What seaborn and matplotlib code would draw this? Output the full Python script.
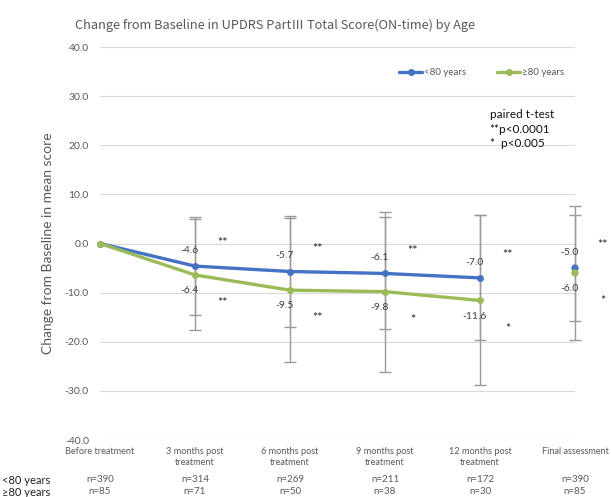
import numpy as np
import pandas as pd
import matplotlib
matplotlib.use("Agg")
import matplotlib.pyplot as plt
from matplotlib.lines import Line2D
from matplotlib.transforms import blended_transform_factory
import seaborn as sns

# ---- data ---------------------------------------------------------------
categories = ["Before treatment", "3 months post\ntreatment", "6 months post\ntreatment",
              "9 months post\ntreatment", "12 months post\ntreatment", "Final assessment"]
under80_mean = [0.0, -4.6, -5.7, -6.1, -7.0, -5.0]
over80_mean = [0.0, -6.4, -9.5, -9.8, -11.6, -6.0]
under80_sd = [np.nan, 10.0, 11.2, 11.4, 12.7, 10.7]
over80_sd = [np.nan, 11.3, 14.7, 16.3, 17.3, 13.7]
under80_n = [390, 314, 269, 211, 172, 390]
over80_n = [85, 71, 50, 38, 30, 85]
under80_sig = ["", "**", "**", "**", "**", "**"]
over80_sig = ["", "**", "**", "*", "*", "*"]
group_names = ["<80 years", "\u226580 years"]
y_ticks = [-40, -30, -20, -10, 0, 10, 20, 30, 40]

BLUE = "#4472C4"
GREEN = "#9BBB59"
GREY_TXT = "#595959"

sns.set_theme(style="white")
plt.rcParams["font.family"] = ["Lato", "DejaVu Sans"]

fig = plt.figure(figsize=(6.11, 4.97), dpi=100)
ax = fig.add_axes([100 / 611, 1 - 440 / 497, 475 / 611, 393 / 497])

pos = np.arange(len(categories))
df = pd.DataFrame({
    "pos": np.concatenate([pos, pos]),
    "mean": under80_mean + over80_mean,
    "sd": under80_sd + over80_sd,
    "group": [group_names[0]] * len(pos) + [group_names[1]] * len(pos),
})
palette = {group_names[0]: BLUE, group_names[1]: GREEN}

# error bars behind the lines
for g in group_names:
    sub = df[(df.group == g) & df.sd.notna()]
    ax.errorbar(sub["pos"], sub["mean"], yerr=sub["sd"], fmt="none",
                ecolor="#9a9a9a", elinewidth=1.0, capsize=4, capthick=1.0,
                zorder=2, clip_on=False)

# follow-up course (connected) and final assessment (stand-alone point)
course = df[df.pos < 5]
final = df[df.pos == 5]
sns.lineplot(data=course, x="pos", y="mean", hue="group", palette=palette,
             marker="o", markersize=5, markeredgewidth=0, linewidth=2.4,
             legend=False, ax=ax, zorder=3, clip_on=False)
sns.scatterplot(data=final, x="pos", y="mean", hue="group", palette=palette,
                s=28, linewidth=0, legend=False, ax=ax, zorder=3, clip_on=False)

# value labels and significance marks: <80 above its points, >=80 below its points
for means, sig, lab_off, sig_off, va in [
        (under80_mean, under80_sig, (-4, 8), (20, 12), "bottom"),
        (over80_mean, over80_sig, (-4, -8), (20, -16), "top")]:
    for i in range(1, len(pos)):
        ax.annotate(f"{means[i]:.1f}", (pos[i], means[i]), xytext=lab_off,
                    textcoords="offset points", ha="center", va=va,
                    fontsize=7.5, color="#404040")
        ax.annotate(sig[i], (pos[i], means[i]), xytext=sig_off,
                    textcoords="offset points", ha="center", va=va,
                    fontsize=9, color="#222222")

# axes styling
ax.set_xlim(0, 5)
ax.set_ylim(-40, 40)
ax.set_yticks(y_ticks)
ax.set_yticklabels([f"{v:.1f}" for v in y_ticks], fontsize=7.5, color=GREY_TXT)
ax.set_xticks(pos)
ax.set_xticklabels(categories, fontsize=6.6, color=GREY_TXT, linespacing=1.3)
ax.tick_params(axis="both", length=0)
ax.tick_params(axis="y", pad=8)
ax.tick_params(axis="x", pad=5)
ax.grid(axis="y", color="#d9d9d9", linewidth=0.8)
ax.grid(axis="x", visible=False)
for s in ax.spines.values():
    s.set_visible(False)
ax.set_xlabel("")
ax.set_ylabel("Change from Baseline in mean score", fontsize=10, color=GREY_TXT,
              labelpad=8)

fig.text(0.45, 1 - 25 / 497,
         "Change from Baseline in UPDRS Part\u2162 Total Score(ON-time) by Age",
         ha="center", va="center", fontsize=9.2, color=GREY_TXT,
         family=["Noto Sans CJK JP", "DejaVu Sans"])

# legend
handles = [Line2D([0], [0], color=palette[g], lw=2.4, marker="o", markersize=4)
           for g in group_names]
ax.legend(handles, group_names, loc="center right", bbox_to_anchor=(0.995, 0.934),
          ncol=2, frameon=False, fontsize=7, handlelength=2.4, columnspacing=3.2,
          handletextpad=0.15, labelcolor=GREY_TXT)

ax.text(0.82, 0.842, "paired t-test\n**p<0.0001\n*  p<0.005", transform=ax.transAxes,
        ha="left", va="top", fontsize=8.5, color="#111111", linespacing=1.4)

# sample sizes below the axis
trans = blended_transform_factory(ax.transData, fig.transFigure)
for row_y, name, ns in [(1 - 480 / 497, group_names[0], under80_n),
                        (1 - 492 / 497, group_names[1], over80_n)]:
    fig.text(2 / 611, row_y, name, ha="left", va="center", fontsize=8, color="#222222")
    for p, n in zip(pos, ns):
        ax.text(p, row_y, f"n={n}", transform=trans, ha="center", va="center",
                fontsize=7, color=GREY_TXT)

fig.savefig("out.png", dpi=100)
